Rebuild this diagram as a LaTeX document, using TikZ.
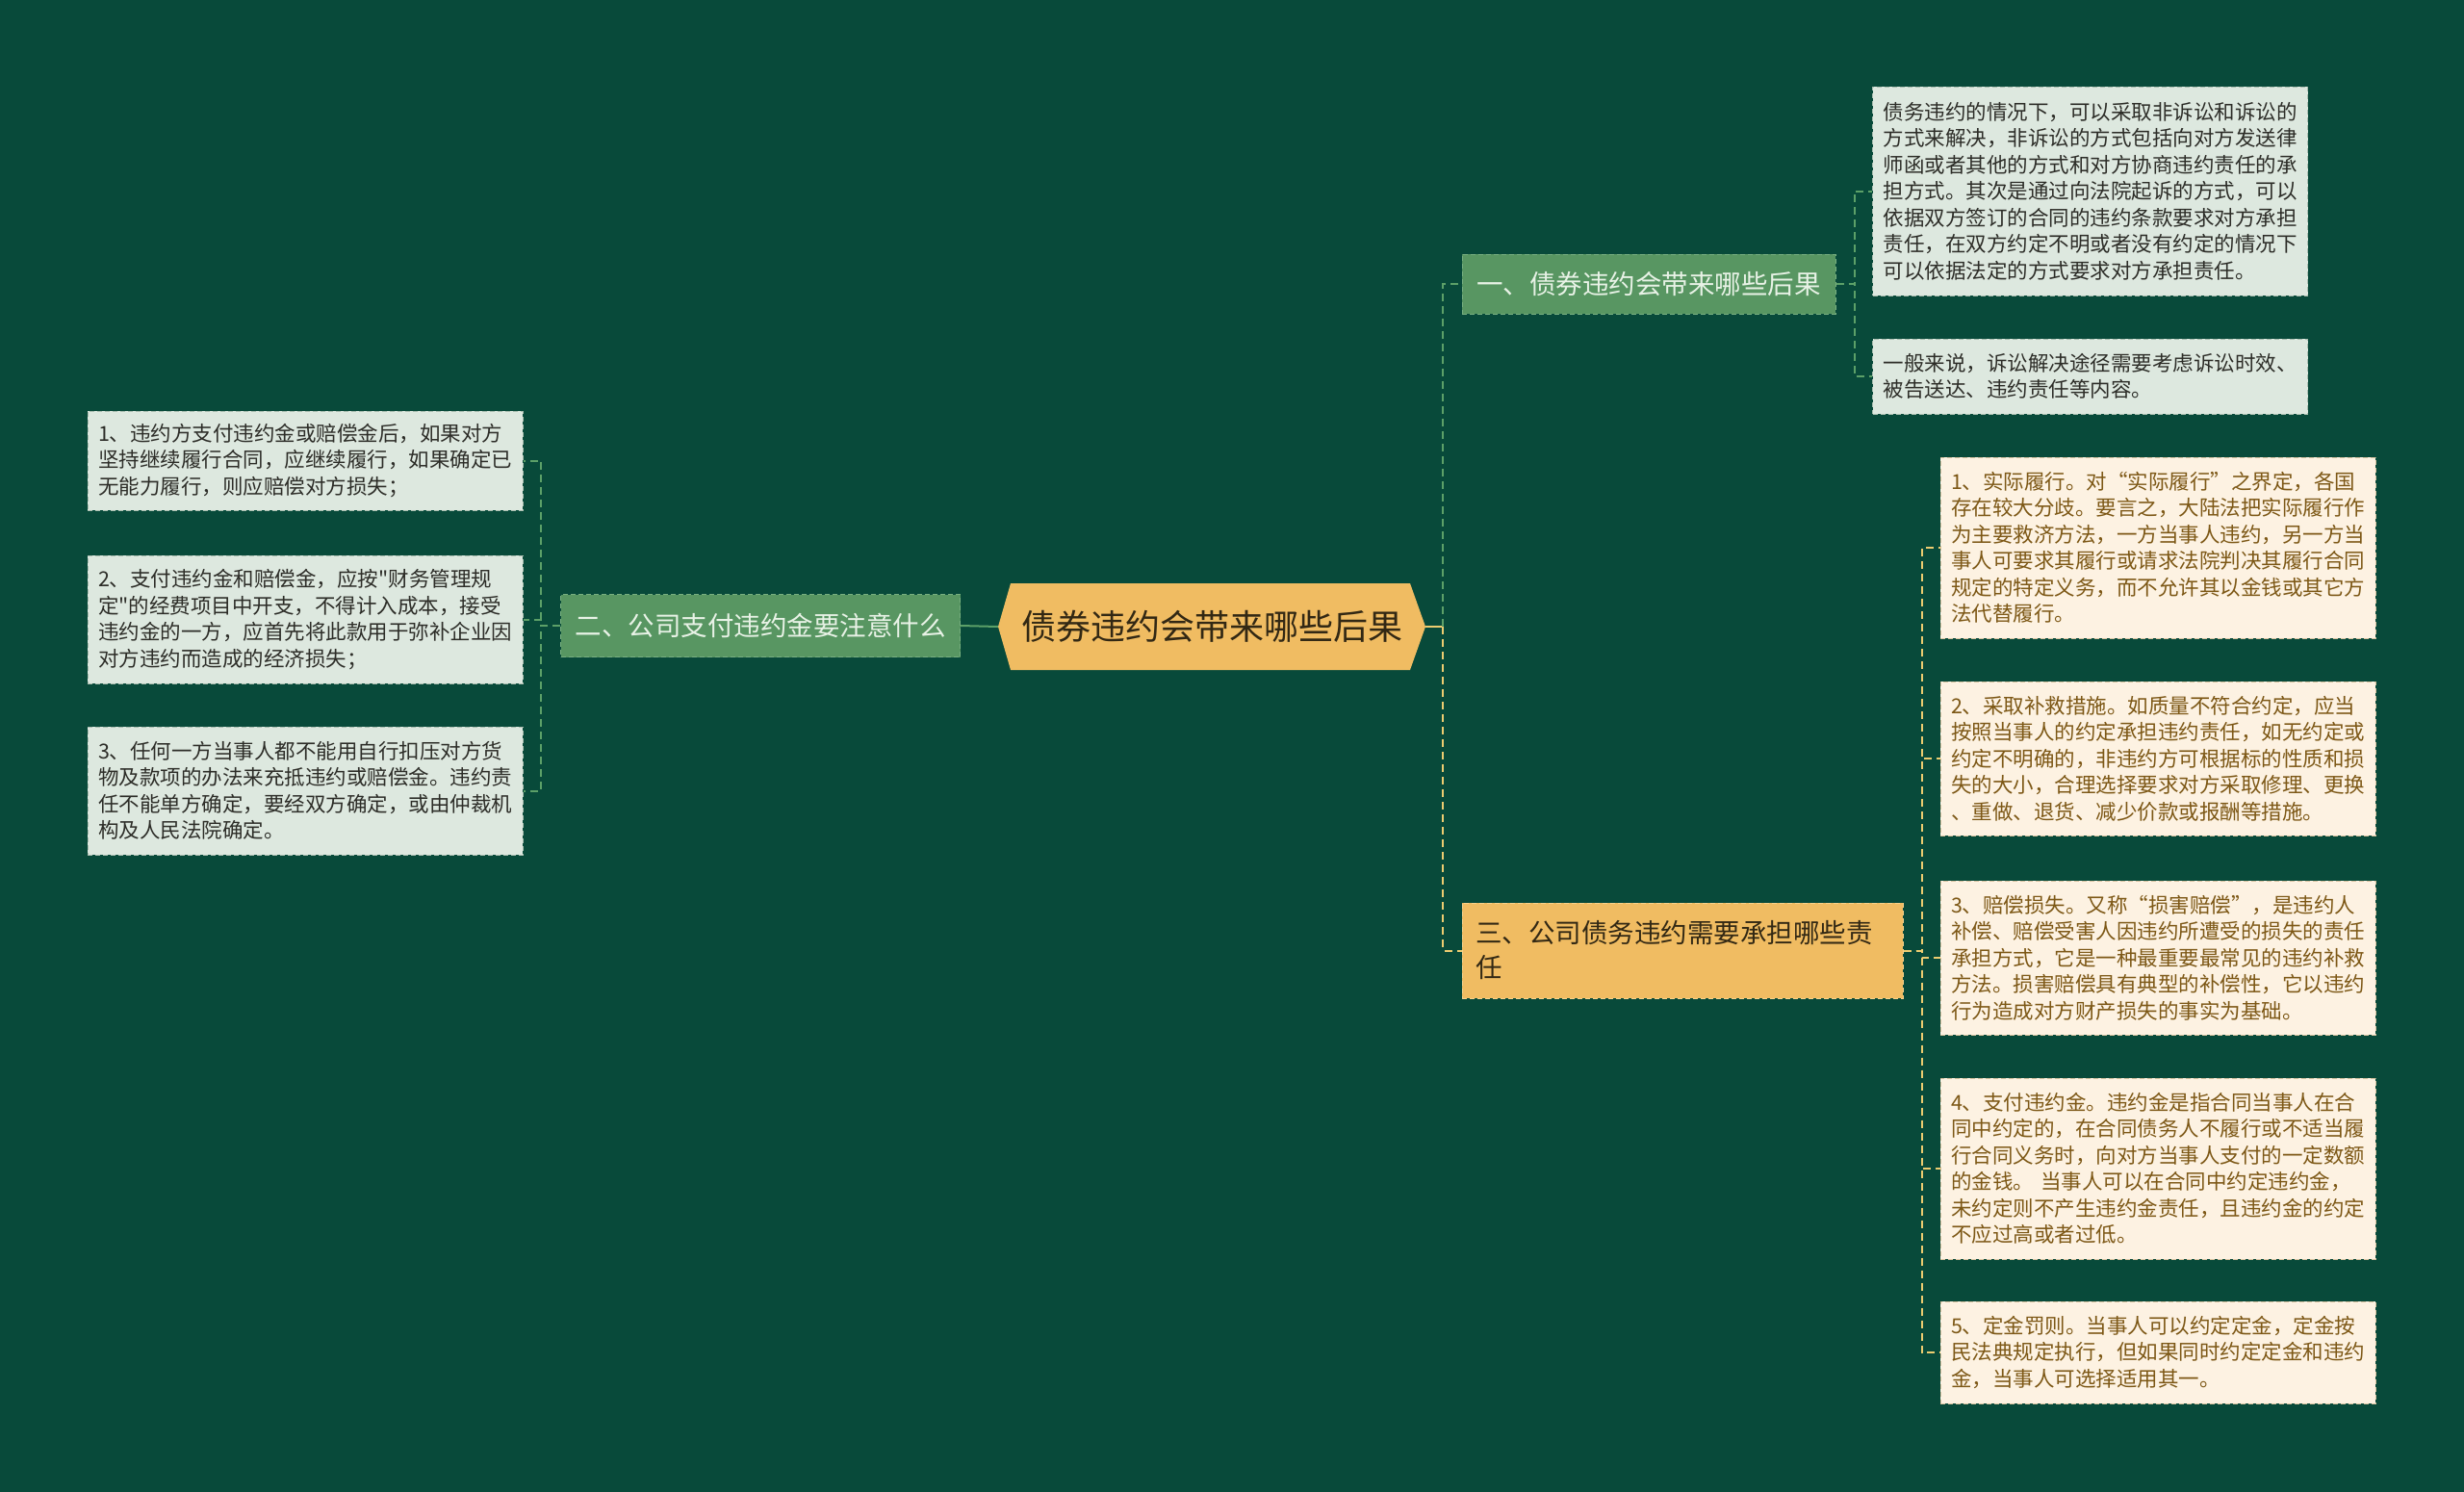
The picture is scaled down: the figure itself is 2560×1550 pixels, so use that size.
\documentclass[tikz,border=0pt]{standalone}
\usepackage{fontspec}
\setmainfont{Noto Sans CJK SC}[Ligatures=TeXOff]
\definecolor{bg}{RGB}{8,74,58}
\definecolor{gfill}{RGB}{88,150,98}
\definecolor{gdraw}{RGB}{120,175,128}
\definecolor{gline}{RGB}{92,160,104}
\definecolor{ofill}{RGB}{240,188,98}
\definecolor{odraw}{RGB}{248,210,140}
\definecolor{oline}{RGB}{236,204,112}
\definecolor{lgfill}{RGB}{221,232,223}
\definecolor{lgdraw}{RGB}{170,190,176}
\definecolor{crfill}{RGB}{253,242,226}
\definecolor{crdraw}{RGB}{215,195,160}
\definecolor{crtext}{RGB}{125,88,22}
\definecolor{dtext}{RGB}{45,45,40}
\definecolor{gtext}{RGB}{232,242,230}
\definecolor{rtext}{RGB}{50,40,20}
\tikzset{
  branchG/.style={rectangle, fill=gfill, draw=gdraw, dash pattern=on 5pt off 3pt, line width=1pt, text=gtext, inner sep=0pt, font=\fontsize{27.5}{36}\selectfont},
  branchO/.style={rectangle, fill=ofill, draw=odraw, dash pattern=on 5pt off 3pt, line width=1pt, text=rtext, inner ysep=0pt, inner xsep=14pt, text width=430pt, align=left, font=\fontsize{27.5}{36}\selectfont},
  leafG/.style={rectangle, fill=lgfill, draw=lgdraw, dash pattern=on 5pt off 3pt, line width=1pt, text=dtext, text width=430pt, inner xsep=11pt, inner ysep=0pt, align=left, font=\fontsize{21.5}{27.5}\selectfont},
  leafO/.style={rectangle, fill=crfill, draw=crdraw, dash pattern=on 5pt off 3pt, line width=1pt, text=crtext, text width=430pt, inner xsep=11pt, inner ysep=0pt, align=left, font=\fontsize{21.5}{27.5}\selectfont},
  gsolid/.style={draw=gline, line width=2pt},
  osolid/.style={draw=oline, line width=2pt},
  gdash/.style={draw=gline, line width=2pt, dash pattern=on 8pt off 5pt},
  odash/.style={draw=oline, line width=2pt, dash pattern=on 8pt off 5pt},
}
\begin{document}
\begin{tikzpicture}[x=1pt,y=-1pt]
\fill[bg] (0,0) rectangle (2560,1550);
\useasboundingbox (0,0) rectangle (2560,1550);

% root hexagon
\fill[ofill] (1050,606) -- (1465,606) -- (1481,651) -- (1465,696) -- (1050,696) -- (1037,651) -- cycle;
\node[text=rtext, font=\fontsize{36}{40}\selectfont, inner sep=0pt] (root) at (1259,651) {债券违约会带来哪些后果};
\coordinate (rootE) at (1481,651);
\coordinate (rootW) at (1037,651);

% branches
\node[branchG, minimum width=388pt, minimum height=62pt] (b1) at (1713,295) {一、债券违约会带来哪些后果};
\node[branchG, minimum width=415pt, minimum height=65pt] (b2) at (790,650) {二、公司支付违约金要注意什么};
\node[branchO, minimum height=99pt] (b3) at (1748,987.5) {三、公司债务违约需要承担哪些责\\任};

% leaves of branch 1
\node[leafG, minimum height=217pt] (a1) at (2171.5,198.5) {债务违约的情况下，可以采取非诉讼和诉讼的\\方式来解决，非诉讼的方式包括向对方发送律\\师函或者其他的方式和对方协商违约责任的承\\担方式。其次是通过向法院起诉的方式，可以\\依据双方签订的合同的违约条款要求对方承担\\责任，在双方约定不明或者没有约定的情况下\\可以依据法定的方式要求对方承担责任。};
\node[leafG, minimum height=78pt] (a2) at (2171.5,391) {一般来说，诉讼解决途径需要考虑诉讼时效、\\被告送达、违约责任等内容。};

% leaves of branch 2
\node[leafG, minimum height=103pt] (l1) at (317,478.5) {1、违约方支付违约金或赔偿金后，如果对方\\坚持继续履行合同，应继续履行，如果确定已\\无能力履行，则应赔偿对方损失；};
\node[leafG, minimum height=133pt] (l2) at (317,643.5) {2、支付违约金和赔偿金，应按"财务管理规\\定"的经费项目中开支，不得计入成本，接受\\违约金的一方，应首先将此款用于弥补企业因\\对方违约而造成的经济损失；};
\node[leafG, minimum height=133pt] (l3) at (317,821.5) {3、任何一方当事人都不能用自行扣压对方货\\物及款项的办法来充抵违约或赔偿金。违约责\\任不能单方确定，要经双方确定，或由仲裁机\\构及人民法院确定。};

% leaves of branch 3
\node[leafO, minimum height=188pt] (r1) at (2242,569) {1、实际履行。对“实际履行”之界定，各国\\存在较大分歧。要言之，大陆法把实际履行作\\为主要救济方法，一方当事人违约，另一方当\\事人可要求其履行或请求法院判决其履行合同\\规定的特定义务，而不允许其以金钱或其它方\\法代替履行。};
\node[leafO, minimum height=160pt] (r2) at (2242,788) {2、采取补救措施。如质量不符合约定，应当\\按照当事人的约定承担违约责任，如无约定或\\约定不明确的，非违约方可根据标的性质和损\\失的大小，合理选择要求对方采取修理、更换\\、重做、退货、减少价款或报酬等措施。};
\node[leafO, minimum height=160pt] (r3) at (2242,995) {3、赔偿损失。又称“损害赔偿”，是违约人\\补偿、赔偿受害人因违约所遭受的损失的责任\\承担方式，它是一种最重要最常见的违约补救\\方法。损害赔偿具有典型的补偿性，它以违约\\行为造成对方财产损失的事实为基础。};
\node[leafO, minimum height=188pt] (r4) at (2242,1214) {4、支付违约金。违约金是指合同当事人在合\\同中约定的，在合同债务人不履行或不适当履\\行合同义务时，向对方当事人支付的一定数额\\的金钱。 当事人可以在合同中约定违约金，\\未约定则不产生违约金责任，且违约金的约定\\不应过高或者过低。};
\node[leafO, minimum height=106pt] (r5) at (2242,1405) {5、定金罚则。当事人可以约定定金，定金按\\民法典规定执行，但如果同时约定定金和违约\\金，当事人可选择适用其一。};

% connectors: root
\draw[gsolid] (rootW) -- (b2.east);
\draw[osolid] (rootE) -- ++(18,0);
\draw[gdash] (rootE) ++(18,0) |- (b1.west);
\draw[odash] (rootE) ++(18,0) |- (b3.west);

% connectors: branch 1
\draw[gdash] (b1.east) -- ++(19,0) |- (a1.west);
\draw[gdash] (b1.east) -- ++(19,0) |- (a2.west);

% connectors: branch 2
\draw[gdash] (b2.west) -- ++(-20,0) |- (l1.east);
\draw[gdash] (b2.west) -- ++(-20,0) |- (l2.east);
\draw[gdash] (b2.west) -- ++(-20,0) |- (l3.east);

% connectors: branch 3
\draw[odash] (b3.east) -- ++(19,0) |- (r1.west);
\draw[odash] (b3.east) -- ++(19,0) |- (r2.west);
\draw[odash] (b3.east) -- ++(19,0) |- (r3.west);
\draw[odash] (b3.east) -- ++(19,0) |- (r4.west);
\draw[odash] (b3.east) -- ++(19,0) |- (r5.west);
\end{tikzpicture}
\end{document}
